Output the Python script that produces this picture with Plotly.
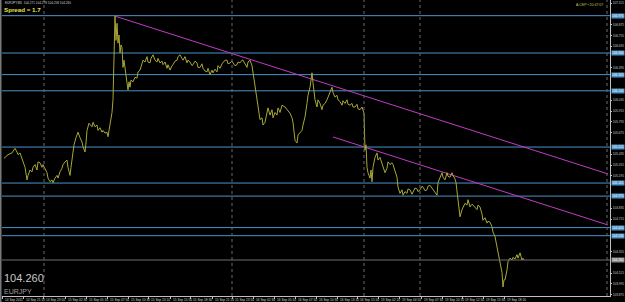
import plotly.graph_objects as go

# ---- data (M5 closes) ----
bar_index = [
    4, 5, 8, 12, 15, 17, 18, 20, 22, 23, 25, 27, 28, 30, 32, 33, 35, 37, 38, 40,
    42, 43, 45, 47, 48, 50, 52, 53, 55, 57, 58, 60, 62, 63, 65, 67, 68, 70, 71, 73,
    74, 76, 78, 80, 82, 83, 85, 86, 87, 89, 92, 93, 95, 97, 98, 100, 102, 103, 105, 107,
    108, 109, 111, 112, 113, 114, 115, 116, 117, 118, 119, 120, 121, 122, 123, 124, 125, 126, 127, 128,
    129, 130, 131, 133, 135, 137, 138, 140, 142, 143, 145, 147, 148, 150, 151, 153, 155, 157, 158, 160,
    162, 163, 165, 167, 168, 170, 172, 173, 175, 177, 178, 180, 182, 183, 185, 187, 188, 190, 192, 193,
    195, 197, 198, 200, 202, 203, 205, 207, 208, 210, 212, 213, 215, 217, 218, 220, 222, 223, 225, 227,
    228, 230, 232, 233, 235, 237, 238, 240, 242, 243, 245, 247, 248, 250, 252, 253, 255, 256, 257, 258,
    259, 260, 262, 263, 265, 267, 268, 270, 272, 273, 275, 277, 278, 280, 282, 285, 287, 290, 292, 293,
    295, 297, 298, 300, 302, 303, 305, 307, 308, 310, 311, 312, 313, 315, 317, 318, 320, 322, 323, 325,
    327, 328, 330, 332, 333, 335, 337, 338, 340, 342, 343, 345, 347, 348, 350, 352, 353, 355, 357, 358,
    360, 362, 364, 365, 366, 367, 368, 370, 371, 372, 373, 375, 377, 378, 380, 382, 383, 385, 387, 388,
    390, 392, 393, 395, 397, 398, 400, 402, 403, 405, 407, 408, 410, 412, 413, 415, 417, 418, 420, 422,
    423, 425, 427, 428, 430, 432, 433, 435, 437, 438, 440, 442, 443, 445, 447, 448, 450, 452, 453, 455,
    456, 457, 458, 459, 460, 462, 463, 465, 467, 468, 470, 472, 473, 475, 477, 478, 480, 482, 483, 485,
    487, 488, 490, 492, 493, 495, 496, 497, 498, 500, 501, 502, 503, 504, 505, 506, 507, 508, 510, 512,
    513, 515, 517, 518, 520, 521, 522, 523, 524,
]
close = [
    105.39, 105.40, 105.43, 105.45, 105.50, 105.46, 105.43, 105.45, 105.39, 105.35, 105.29, 105.15, 105.20, 105.26, 105.24, 105.29, 105.32, 105.26, 105.35, 105.34,
    105.29, 105.32, 105.28, 105.23, 105.17, 105.13, 105.15, 105.12, 105.17, 105.20, 105.17, 105.24, 105.28, 105.32, 105.35, 105.37, 105.29, 105.20, 105.29, 105.48,
    105.54, 105.62, 105.68, 105.62, 105.57, 105.52, 105.46, 105.56, 105.70, 105.78, 105.74, 105.79, 105.74, 105.76, 105.70, 105.73, 105.68, 105.70, 105.67, 105.68,
    105.63, 105.70, 105.82, 105.90, 106.04, 106.48, 106.97, 106.70, 106.89, 106.67, 106.76, 106.56, 106.65, 106.62, 106.40, 106.48, 106.37, 106.26, 106.23, 106.15,
    106.24, 106.18, 106.26, 106.24, 106.29, 106.28, 106.35, 106.37, 106.44, 106.48, 106.46, 106.52, 106.46, 106.45, 106.50, 106.54, 106.48, 106.46, 106.50, 106.45,
    106.47, 106.43, 106.46, 106.39, 106.43, 106.37, 106.42, 106.43, 106.47, 106.48, 106.52, 106.54, 106.50, 106.48, 106.52, 106.45, 106.48, 106.46, 106.42, 106.43,
    106.47, 106.45, 106.40, 106.40, 106.44, 106.39, 106.36, 106.35, 106.39, 106.32, 106.37, 106.34, 106.38, 106.35, 106.42, 106.39, 106.44, 106.45, 106.48, 106.48,
    106.44, 106.45, 106.47, 106.45, 106.42, 106.43, 106.46, 106.45, 106.48, 106.48, 106.44, 106.40, 106.46, 106.48, 106.42, 106.34, 106.18, 106.09, 106.04, 105.96,
    105.87, 105.82, 105.84, 105.76, 105.79, 105.90, 105.95, 105.87, 105.93, 105.84, 105.90, 105.87, 105.95, 105.90, 105.98, 105.96, 105.93, 105.89, 105.84, 105.79,
    105.59, 105.56, 105.65, 105.68, 105.70, 105.76, 105.85, 106.00, 106.09, 106.18, 106.26, 106.34, 106.23, 106.04, 105.96, 106.04, 106.00, 105.93, 105.98, 106.00,
    106.04, 106.07, 106.13, 106.18, 106.12, 106.07, 106.09, 106.04, 106.02, 105.98, 106.03, 106.00, 106.04, 105.99, 105.98, 106.00, 105.96, 105.96, 105.99, 105.94,
    105.93, 105.96, 105.89, 105.48, 105.54, 105.29, 105.23, 105.17, 105.26, 105.13, 105.29, 105.40, 105.45, 105.37, 105.40, 105.34, 105.29, 105.23, 105.28, 105.35,
    105.32, 105.34, 105.32, 105.26, 105.18, 105.07, 105.00, 105.04, 104.98, 105.02, 105.00, 105.05, 105.04, 104.99, 105.02, 105.06, 105.05, 105.02, 105.04, 105.08,
    105.07, 105.03, 105.04, 105.08, 105.09, 105.06, 105.04, 105.02, 104.98, 105.12, 105.17, 105.23, 105.18, 105.15, 105.23, 105.19, 105.18, 105.23, 105.20, 105.16,
    105.12, 105.04, 104.93, 104.82, 104.74, 104.82, 104.85, 104.89, 104.87, 104.93, 104.85, 104.88, 104.87, 104.84, 104.82, 104.87, 104.85, 104.77, 104.70, 104.73,
    104.67, 104.69, 104.68, 104.63, 104.57, 104.52, 104.46, 104.40, 104.34, 104.23, 104.17, 104.12, 103.96, 104.04, 104.04, 104.09, 104.15, 104.24, 104.28, 104.26,
    104.29, 104.27, 104.32, 104.28, 104.34, 104.30, 104.26, 104.28, 104.26,
]
levels = [106.975, 106.560, 106.320, 106.140, 105.515, 105.115, 104.970, 104.620, 104.530]
trend_upper_x = [115, 608]
trend_upper_y = [106.970, 105.216]
trend_lower_x = [333, 608]
trend_lower_y = [105.627, 104.649]
separators = [44, 232, 364, 420, 607]
bid_price = 104.260
time_tick_pos = [2, 23, 43, 65, 86, 107, 128, 148, 170, 190, 212, 232, 253, 274, 295,
                 316, 337, 357, 378, 399, 421, 442, 462, 483, 504]
time_tick_text = ["14 Sep 2011", "14 Sep 21:10", "14 Sep 23:50", "15 Sep 02:30", "15 Sep 05:10",
                  "15 Sep 07:50", "15 Sep 10:30", "15 Sep 13:10", "15 Sep 15:50", "15 Sep 18:30",
                  "15 Sep 21:10", "15 Sep 23:50", "16 Sep 02:30", "16 Sep 05:10", "16 Sep 07:50",
                  "16 Sep 10:30", "16 Sep 13:10", "16 Sep 15:50", "19 Sep 02:10", "19 Sep 04:50",
                  "19 Sep 07:30", "19 Sep 10:10", "19 Sep 12:50", "19 Sep 15:30", "19 Sep 18:10"]
# price-scale labels (those hidden under the level boxes are left out)
price_ticks = [103.875, 103.995, 104.115, 104.355, 104.715, 104.835, 105.195, 105.315,
               105.435, 105.675, 105.795, 105.915, 106.035, 106.395, 106.635, 106.755,
               106.875, 107.115]

X_RANGE = [2, 610]
Y_RANGE = [103.860, 107.149]

LEVEL_C = "#4b93c8"
TREND_C = "#c03cc8"
PRICE_C = "#a8a838"
FONT = "Liberation Sans, Arial, sans-serif"
AXIS_FS = 3.2

fig = go.Figure()

for lv in levels:
    fig.add_trace(go.Scatter(x=X_RANGE, y=[lv, lv], mode="lines",
                             line=dict(color=LEVEL_C, width=1), hoverinfo="skip"))

for sx in separators:
    fig.add_vline(x=sx, line=dict(color="#6a6a6a", width=1, dash="dot"))

fig.add_hline(y=bid_price, line=dict(color="#6e6e6e", width=1))

fig.add_trace(go.Scatter(x=trend_upper_x, y=trend_upper_y, mode="lines",
                         line=dict(color=TREND_C, width=1)))
fig.add_trace(go.Scatter(x=trend_lower_x, y=trend_lower_y, mode="lines",
                         line=dict(color=TREND_C, width=1)))

fig.add_trace(go.Scatter(x=bar_index, y=close, mode="lines",
                         line=dict(color=PRICE_C, width=1)))

# time labels (left-aligned like MT4)
for pos, txt in zip(time_tick_pos, time_tick_text):
    fig.add_annotation(x=pos, y=0, xref="x", yref="paper", xanchor="left", yanchor="top",
                       text=txt, showarrow=False, xshift=1, yshift=0,
                       font=dict(family=FONT, size=3.2, color="#d8d8d8"))

# highlighted level labels on price axis
for lv in levels:
    fig.add_annotation(x=1, y=lv, xref="paper", yref="y", xanchor="left", yanchor="middle",
                       text=f"{lv:.3f}", showarrow=False, xshift=1, bgcolor=LEVEL_C,
                       borderpad=0, font=dict(family=FONT, size=AXIS_FS, color="white"))
fig.add_annotation(x=1, y=bid_price, xref="paper", yref="y", xanchor="left", yanchor="middle",
                   text=f"{bid_price:.3f}", showarrow=False, xshift=1, bgcolor="#8a8a8a",
                   borderpad=0, font=dict(family=FONT, size=AXIS_FS, color="white"))

# header texts
fig.add_annotation(x=0, y=1, xref="paper", yref="paper", xanchor="left", yanchor="top",
                   text="EURJPY,M5  104.271 104.278 104.258 104.260", showarrow=False,
                   xshift=1, yshift=1, font=dict(family=FONT, size=3.1, color="#d0d0d0"))
fig.add_annotation(x=0, y=1 - 9.5 / 296, xref="paper", yref="paper", xanchor="left", yanchor="middle",
                   text="<b>Spread = 1.7</b>", showarrow=False, xshift=0,
                   font=dict(family=FONT, size=6.2, color="#e6e64a"))
fig.add_annotation(x=(605 - 2) / 608, y=1 - 5 / 296, xref="paper", yref="paper", xanchor="right",
                   yanchor="middle", text="A.CEP • 20:47:07", showarrow=False,
                   font=dict(family=FONT, size=3.5, color="#c8c850"))
fig.add_annotation(x=0, y=1 - 278 / 296, xref="paper", yref="paper", xanchor="left", yanchor="middle",
                   text="104.260", showarrow=False, xshift=0,
                   font=dict(family=FONT, size=11, color="#c8c8c8"))
fig.add_annotation(x=0, y=1 - 291 / 296, xref="paper", yref="paper", xanchor="left", yanchor="middle",
                   text="EURJPY", showarrow=False, xshift=0,
                   font=dict(family=FONT, size=7, color="#a0a0a0"))

# left window border
fig.add_shape(type="rect", xref="paper", yref="paper", x0=-2 / 608, x1=-0.5 / 608,
              y0=-6 / 296, y1=1, fillcolor="#7a7a7a", line=dict(width=0), layer="above")

fig.update_layout(
    template="none",
    width=625, height=302,
    margin=dict(l=2, r=15, t=0, b=6, pad=0),
    paper_bgcolor="black", plot_bgcolor="black",
    showlegend=False,
    xaxis=dict(range=X_RANGE, showgrid=False, zeroline=False, showline=True,
               linecolor="#c0c0c0", linewidth=1, tickmode="array", tickvals=time_tick_pos,
               ticks="outside", ticklen=2, tickcolor="#c0c0c0", showticklabels=False,
               automargin=False, fixedrange=True),
    yaxis=dict(range=Y_RANGE, side="right", showgrid=False, zeroline=False, showline=True,
               linecolor="#c0c0c0", linewidth=1, tickmode="array", tickvals=price_ticks,
               ticktext=[f"{v:.3f}" for v in price_ticks], ticks="outside", ticklen=1,
               tickcolor="#c0c0c0", tickfont=dict(family=FONT, size=AXIS_FS, color="#c8c8c8"),
               automargin=False, fixedrange=True),
)

fig.write_html("out.html")
